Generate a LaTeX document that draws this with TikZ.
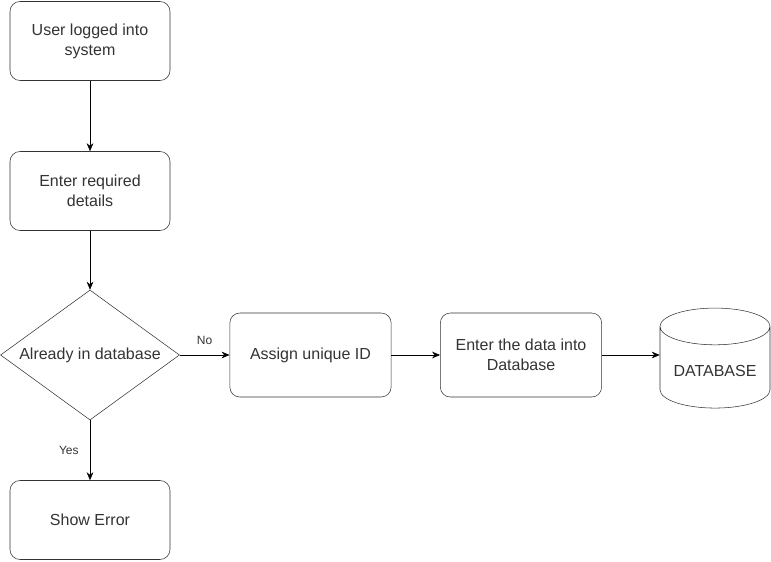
\documentclass[tikz,border=0pt]{standalone}
\usepackage{fontspec}
\setmainfont{Liberation Sans}
\usepackage{tikz}
\usetikzlibrary{arrows.meta, shapes.geometric}

\begin{document}
\begin{tikzpicture}[x=0.75pt, y=-0.75pt,
	every node/.style={font=\fontsize{12}{15}\selectfont, text=black!80},
	stepbox/.style={rectangle, rounded corners=7.5pt, draw=black!80, align=center, minimum width=120pt, minimum height=59.25pt},
	widebox/.style={stepbox, minimum width=121pt, minimum height=63pt},
	check/.style={diamond, draw=black!80, inner sep=0pt, aspect=1.38, minimum width=134.25pt, minimum height=97.5pt},
	store/.style={cylinder, shape border rotate=90, aspect=0.4, draw=black!80, minimum width=82.5pt, minimum height=75pt},
	flow/.style={-{Stealth[length=6pt, width=5pt]}, black},
	tag/.style={font=\fontsize{9}{11}\selectfont}]
	\useasboundingbox (0,0) rectangle (771,561);
	% Nodes
	\node[stepbox] (login) at (90,41) {User logged into\\system};
	\node[stepbox] (details) at (90,191) {Enter required\\details};
	\node[check] (indb) at (90,355) {Already in database};
	\node[widebox] (assign) at (310.5,355) {Assign unique ID};
	\node[widebox] (enter) at (521,355) {Enter the data into\\Database};
	\node[store] (db) at (715,371) {DATABASE};
	\node[stepbox] (error) at (90,520) {Show Error};
	% Edges
	\draw[flow] (login) -- (details);
	\draw[flow] (details) -- (indb);
	\draw[flow] (indb) -- node[tag, above=4pt]{No} (assign);
	\draw[flow] (indb) -- node[tag, left=5pt]{Yes} (error);
	\draw[flow] (assign) -- (enter);
	\draw[flow] (enter) -- (enter -| db.west);
\end{tikzpicture}
\end{document}
